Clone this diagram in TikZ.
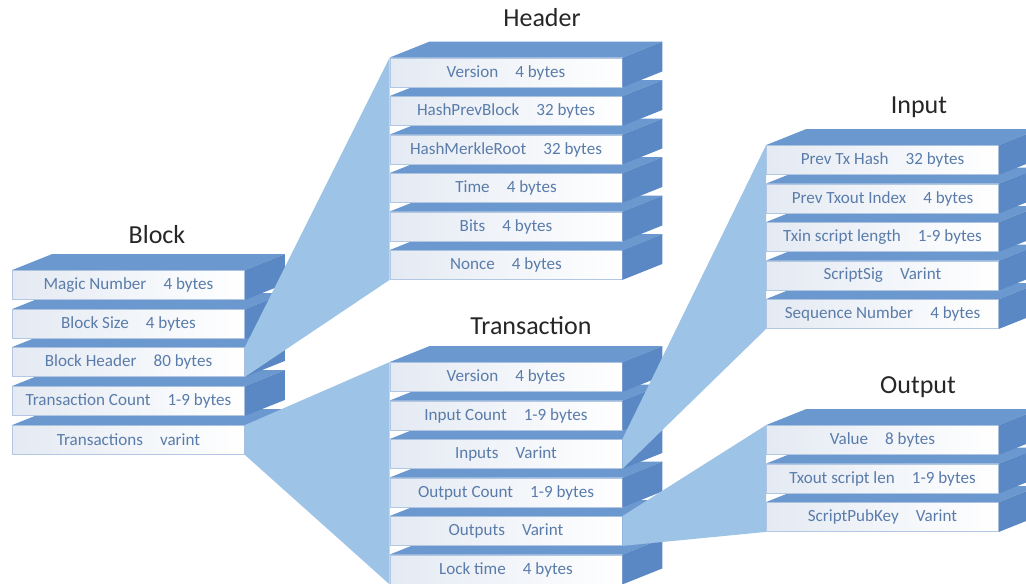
\documentclass[tikz,border=0pt]{standalone}
\usepackage{fontspec}
\setmainfont{Carlito}
\usetikzlibrary{calc}
\definecolor{topblue}{HTML}{6B98CF}
\definecolor{sideblue}{HTML}{5A88C4}
\definecolor{funnelblue}{HTML}{9DC3E6}
\definecolor{frontline}{HTML}{B4C7E2}
\definecolor{frontshade}{HTML}{E4EAF3}
\definecolor{labelblue}{HTML}{5A7CAA}
\tikzset{
  front/.style={draw=frontline, line width=0.6pt, left color=frontshade, right color=white,
    minimum width=174pt, minimum height=21.75pt, inner sep=0pt, text=labelblue,
    font=\fontsize{12.8}{14}\selectfont},
  title/.style={font=\fontsize{19.5}{22}\selectfont, text=black!85},
  topface/.style={fill=topblue},
  sideface/.style={fill=sideblue},
  funnel/.style={fill=funnelblue}
}
\newcommand{\slab}[3]{%
  \node [front] (#1) at (#2) {\raisebox{-0.6pt}{#3}};
  \fill [topface] (#1.north west) -- ++(40,-16) -- ([shift={(40,-16)}]#1.north east) -- (#1.north east) -- cycle;
  \fill [sideface] (#1.north east) -- ++(40,-16) -- ([shift={(40,-16)}]#1.south east) -- (#1.south east) -- cycle;
}
\begin{document}
\begin{tikzpicture}[x=0.75pt, y=-0.75pt]
    \useasboundingbox (0,0) rectangle (1026,584);
    \clip (0,0) rectangle (1026,584);
    \node [title] (blocktitle) at (157,235) {Block};
    \node [title] (headertitle) at (542,18) {Header};
    \node [title] (txtitle) at (531,326) {Transaction};
    \node [title] (intitle) at (919,107) {Input};
    \node [title] (outtitle) at (918,387) {Output};
    \foreach \n/\y/\t in {btrans/440/Transactions\quad varint, bcount/401/Transaction Count\quad 1-9 bytes,
        bheader/362/Block Header\quad 80 bytes, bsize/324/Block Size\quad 4 bytes, bmagic/285/Magic Number\quad 4 bytes}
      \slab{\n}{128.5,\y}{\t};
    \foreach \n/\y/\t in {hnonce/265/Nonce\quad 4 bytes, hbits/226.5/Bits\quad 4 bytes, htime/188/Time\quad 4 bytes,
        hmerkle/149.5/HashMerkleRoot\quad 32 bytes, hprev/111/HashPrevBlock\quad 32 bytes, hversion/72.5/Version\quad 4 bytes}
      \slab{\n}{506,\y}{\t};
    \foreach \n/\y/\t in {tlock/569.5/Lock time\quad 4 bytes, touts/531/Outputs\quad Varint, toutc/492.5/Output Count\quad 1-9 bytes,
        tins/454/Inputs\quad Varint, tinc/415.5/Input Count\quad 1-9 bytes, tversion/377/Version\quad 4 bytes}
      \slab{\n}{506,\y}{\t};
    \foreach \n/\y/\t in {iseq/314/Sequence Number\quad 4 bytes, isig/275.5/ScriptSig\quad Varint,
        ilen/237/Txin script length\quad 1-9 bytes, iindex/198.5/Prev Txout Index\quad 4 bytes, ihash/160/Prev Tx Hash\quad 32 bytes}
      \slab{\n}{882.5,\y}{\t};
    \foreach \n/\y/\t in {oscript/517/ScriptPubKey\quad Varint, olen/478.5/Txout script len\quad 1-9 bytes, ovalue/440/Value\quad 8 bytes}
      \slab{\n}{882.5,\y}{\t};
    \fill [funnel] (bheader.north east) -- (hversion.north west) -- (hnonce.south west) -- (bheader.south east) -- cycle;
    \fill [funnel] (btrans.north east) -- (tversion.north west) -- (tlock.south west) -- (btrans.south east) -- cycle;
    \fill [funnel] (tins.north east) -- (ihash.north west) -- (iseq.south west) -- (tins.south east) -- cycle;
    \fill [funnel] (touts.north east) -- (ovalue.north west) -- (oscript.south west) -- (touts.south east) -- cycle;
  \end{tikzpicture}
\end{document}
